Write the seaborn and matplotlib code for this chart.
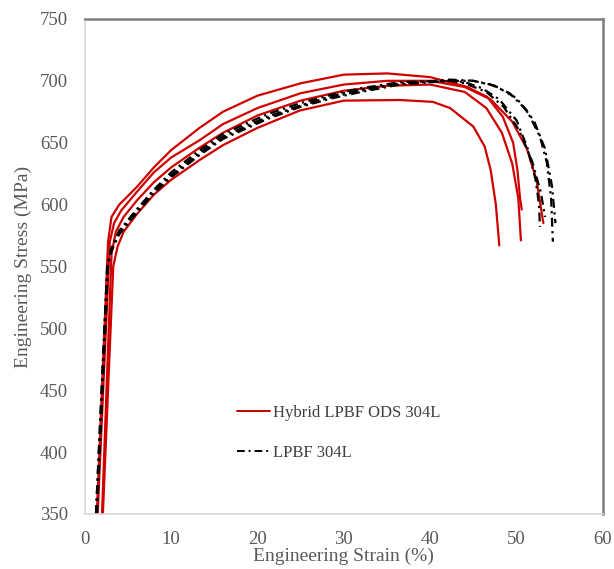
import seaborn as sns
import matplotlib.pyplot as plt
import pandas as pd

# strain (%) / stress (MPa)
r1_strain = [1.4, 2.7, 3.1, 4.0, 6, 8, 10, 13.3, 16, 20, 25, 30, 35, 40, 44.3, 46.6, 48.4, 49.6, 50.1, 50.4, 50.6]
r1_stress = [350, 570, 590, 600, 614, 630, 644, 662, 675, 688, 698, 705, 706, 703, 695, 687, 671, 650, 628, 605, 596]
r2_strain = [1.5, 2.9, 3.4, 4.2, 6, 8, 10, 13.3, 16, 20, 25, 30, 35, 40, 44, 47, 49.5, 51.2, 52.3, 53.1]
r2_stress = [350, 570, 585, 595, 610, 626, 638, 652, 665, 678, 690, 697, 700, 700, 695, 685, 667, 645, 620, 585]
r3_strain = [2.0, 3.1, 3.6, 4.5, 6, 8, 10, 13.3, 16, 20, 25, 30, 35, 40, 44, 46.5, 48.3, 49.5, 50.2, 50.5]
r3_stress = [350, 560, 578, 590, 603, 618, 630, 646, 658, 672, 684, 692, 696, 697, 691, 678, 658, 633, 605, 571]
r4_strain = [2.1, 3.3, 3.8, 4.5, 6, 8, 10, 13.3, 16, 20, 24.9, 30, 36.5, 40.3, 42.3, 45, 46.3, 47, 47.6, 48.0]
r4_stress = [350, 550, 566, 578, 592, 608, 620, 636, 648, 662, 676, 684, 684.5, 683, 678, 663, 647, 628, 600, 567]

b1_strain = [1.3, 2.6, 3.0, 4, 6, 8, 10, 13.3, 16, 21.1, 25, 28.7, 32, 36.5, 42.3, 45, 47, 49.2, 51.2, 52.7, 53.5, 54.0, 54.2]
b1_stress = [350, 550, 563, 578, 595, 611, 624, 642, 655, 671, 680, 687, 692, 698, 701, 700, 697, 690, 676, 655, 634, 605, 570]
b2_strain = [1.4, 2.7, 3.1, 4, 6, 8, 10, 13.3, 16, 21.1, 25, 28.7, 32, 36.5, 42.3, 44, 46, 48, 50, 51.3, 52.2, 52.6, 52.7]
b2_stress = [350, 552, 565, 579, 596, 612, 626, 644, 657, 673, 682, 689, 694, 699, 700, 699, 694, 685, 668, 645, 620, 600, 582]
b3_strain = [1.3, 2.6, 3.0, 4, 6, 8, 10, 13.3, 16, 21.1, 25, 28.7, 32, 36.5, 42.3, 45, 47.5, 50, 52, 53.3, 54.1, 54.5]
b3_stress = [350, 548, 561, 576, 593, 609, 622, 640, 653, 669, 679, 686, 691, 697, 700, 700, 696, 686, 668, 645, 615, 585]
b4_strain = [1.4, 2.7, 3.1, 4, 6, 8, 10, 13.3, 16, 21.1, 25, 28.7, 32, 36.5, 42.3, 44, 46.5, 48.5, 50.3, 51.8, 52.8, 53.3]
b4_stress = [350, 551, 564, 578, 594, 610, 623, 641, 654, 670, 680, 688, 693, 698, 700, 698, 691, 679, 660, 635, 610, 590]

red_curves = [(r1_strain, r1_stress), (r2_strain, r2_stress), (r3_strain, r3_stress), (r4_strain, r4_stress)]
black_curves = [(b1_strain, b1_stress), (b2_strain, b2_stress), (b3_strain, b3_stress), (b4_strain, b4_stress)]

hybrid_label = 'Hybrid LPBF ODS 304L'
lpbf_label = 'LPBF 304L'

rows = []
for i, (x, y) in enumerate(red_curves):
    for a, b in zip(x, y):
        rows.append((hybrid_label, 'h%d' % i, a, b))
for i, (x, y) in enumerate(black_curves):
    for a, b in zip(x, y):
        rows.append((lpbf_label, 'l%d' % i, a, b))
df = pd.DataFrame(rows, columns=['material', 'specimen', 'strain', 'stress'])

sns.set_style('white')
plt.rcParams['font.family'] = ['Liberation Serif', 'DejaVu Serif']

fig = plt.figure(figsize=(6.14, 5.69), dpi=100)
ax = fig.add_axes([0.138, 0.0967, 0.844, 0.87])

palette = {hybrid_label: '#D00000', lpbf_label: '#000000'}
dashes = {hybrid_label: '', lpbf_label: (4, 2, 1, 2)}
sns.lineplot(data=df, x='strain', y='stress', hue='material', style='material',
             units='specimen', estimator=None, sort=False, palette=palette,
             dashes=dashes, linewidth=1.6, ax=ax, legend=False)

ax.set_xlim(0, 60)
ax.set_ylim(350, 750)
ax.set_xticks(range(0, 61, 10))
ax.set_yticks(range(350, 751, 50))
ax.tick_params(length=0, labelsize=13.5, colors='#595959')
ax.tick_params(axis='x', pad=12)
ax.tick_params(axis='y', pad=12)
ax.set_xlabel('Engineering Strain (%)', fontsize=14, color='#595959', labelpad=0)
ax.set_ylabel('Engineering Stress (MPa)', fontsize=14, color='#595959', labelpad=6)

for s in ['left', 'bottom']:
    ax.spines[s].set_color('#D9D9D9')
    ax.spines[s].set_linewidth(1.2)
for s in ['top', 'right']:
    ax.spines[s].set_color('#7F7F7F')
    ax.spines[s].set_linewidth(1.8)

handles = [plt.Line2D([], [], color='#C00000', lw=1.4),
           plt.Line2D([], [], color='black', lw=1.4, dashes=(4, 2, 1, 2))]
leg = ax.legend(handles, [hybrid_label, lpbf_label], loc='center left',
                bbox_to_anchor=(0.265, 0.164), frameon=False, fontsize=12,
                handlelength=2.0, handletextpad=0.15, labelspacing=1.45)
for t in leg.get_texts():
    t.set_color('#404040')

fig.savefig('out.png', dpi=100)
